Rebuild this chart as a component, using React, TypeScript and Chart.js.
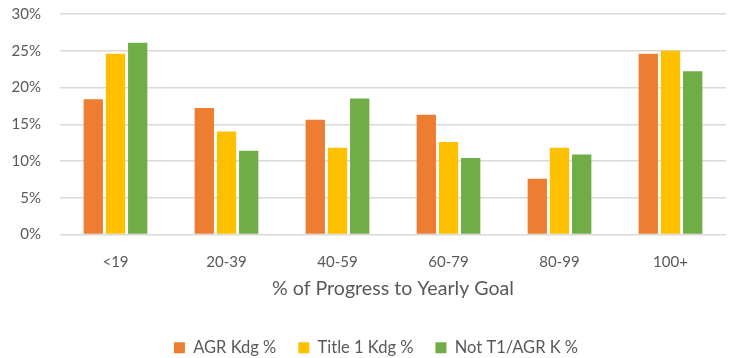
import React, { useEffect, useRef } from "react";
import { Chart, registerables } from "chart.js";

Chart.register(...registerables);

const categories = ["<19", "20-39", "40-59", "60-79", "80-99", "100+"];
const agrKdg = [18.4, 17.2, 15.6, 16.3, 7.6, 24.6];
const title1Kdg = [24.6, 14.0, 11.8, 12.6, 11.8, 25.0];
const notT1Agr = [26.1, 11.4, 18.5, 10.4, 10.9, 22.2];
const seriesNames = ["AGR Kdg %", "Title 1 Kdg %", "Not T1/AGR K %"];
const axisTitle = "% of Progress to Yearly Goal";

const FONT = "Lato, 'Open Sans', sans-serif";
const TEXT = "#595959";

const shiftLegend = {
  id: "shiftLegend",
  afterLayout(chart: any) {
    if (chart.legend) chart.legend.left += 26;
  },
};

export default function App() {
  const ref = useRef<HTMLCanvasElement | null>(null);
  useEffect(() => {
    if (!ref.current) return;
    const chart = new Chart(ref.current, {
      type: "bar",
      data: {
        labels: categories,
        datasets: [
          { label: seriesNames[0], data: agrKdg, backgroundColor: "#ED7D31" },
          { label: seriesNames[1], data: title1Kdg, backgroundColor: "#FFC000" },
          { label: seriesNames[2], data: notT1Agr, backgroundColor: "#70AD47" },
        ],
      },
      plugins: [shiftLegend],
      options: {
        animation: false,
        responsive: false,
        maintainAspectRatio: false,
        layout: { padding: { left: 0, right: 5, top: 14, bottom: -8 } },
        datasets: { bar: { categoryPercentage: 0.6, barPercentage: 0.87 } },
        plugins: {
          tooltip: { enabled: false },
          legend: {
            position: "bottom",
            labels: {
              boxWidth: 11,
              boxHeight: 11,
              padding: 22,
              color: TEXT,
              font: { family: FONT, size: 16.5 },
            },
          },
        },
        scales: {
          x: {
            grid: { display: false },
            border: { display: false },
            ticks: { color: TEXT, font: { family: FONT, size: 15 }, padding: 11 },
            title: {
              display: true,
              text: axisTitle,
              color: TEXT,
              font: { family: FONT, size: 19.6 },
              padding: { top: 10, bottom: 17 },
            },
            afterFit: (s: any) => {
              s.height = 83;
            },
          },
          y: {
            min: 0,
            max: 30,
            ticks: {
              stepSize: 5,
              color: TEXT,
              font: { family: FONT, size: 15 },
              padding: 19,
              callback: (v: any) => v + "%",
            },
            grid: { color: "#d9d9d9", lineWidth: 1.5, drawTicks: false },
            border: { display: false },
            afterFit: (s: any) => {
              s.width = 60;
              s.paddingTop = 0;
              s.paddingBottom = 0;
            },
          },
        },
      },
    });
    return () => chart.destroy();
  }, []);
  return (
    <div style={{ position: "fixed", left: 0, top: 0, width: 731, height: 358, background: "#fff" }}>
      <canvas ref={ref} width={731} height={358} />
    </div>
  );
}
